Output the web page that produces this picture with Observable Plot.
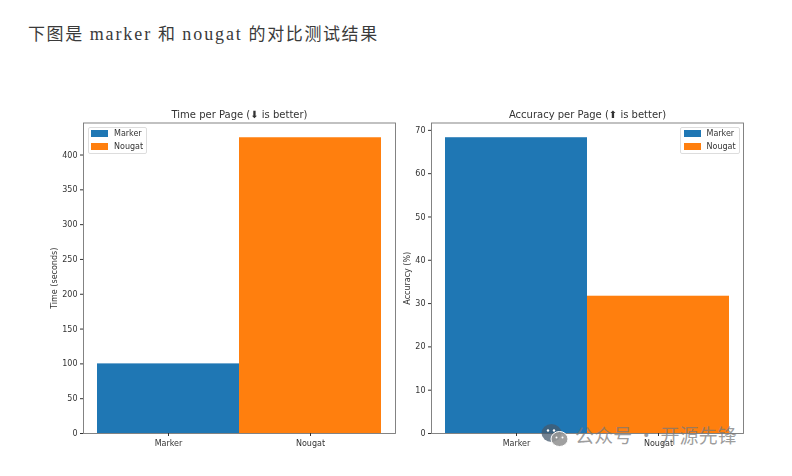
<!DOCTYPE html>
<html lang="zh-CN">
<head>
<meta charset="utf-8">
<script src="https://cdn.jsdelivr.net/npm/d3@7"></script>
<script src="https://cdn.jsdelivr.net/npm/@observablehq/plot@0.6"></script>
<style>
  html, body { margin: 0; padding: 0; background: #fff; }
  body { position: relative; width: 792px; height: 476px; overflow: hidden; font-family: "DejaVu Sans", sans-serif; }
  #heading { position: absolute; left: 28px; top: 21.5px; font: 17px/24px "Liberation Serif", "Noto Sans CJK SC", serif; letter-spacing: 1.6px; color: #3a3a3a; white-space: pre; }
  #heading b { font-weight: normal; font-size: 18px; letter-spacing: 1.9px; }
  .panel { position: absolute; top: 100px; filter: blur(0.3px); }
  .panel svg { display: block; overflow: visible; }
  #left { left: 0; } #right { left: 397px; }
  .legend { position: absolute; top: 126.5px; height: 27.5px; width: 59.5px; border: 0.7px solid #ddd; border-radius: 2px; background: rgba(255,255,255,.85); font-size: 8px; color: #333; filter: blur(0.3px); box-sizing: border-box; }
  .legend div { position: absolute; left: 2.5px; height: 12px; line-height: 12px; white-space: nowrap; }
  .legend i { display: inline-block; width: 17px; height: 6.5px; margin-right: 6px; vertical-align: -0.5px; }
  #wm { position: absolute; left: 541px; top: 421px; height: 28px; display: flex; align-items: center; gap: 6px; color: rgba(120,120,120,.72); font: 19px/28px "Noto Sans CJK SC", sans-serif; letter-spacing: 0.15px; white-space: pre; }
</style>
</head>
<body>
<div id="heading">下图是 <b>marker</b> 和 <b>nougat</b> 的对比测试结果</div>
<div class="panel" id="left"></div>
<div class="panel" id="right"></div>
<div id="wm"><svg width="28" height="24" viewBox="0 0 28 24"><ellipse cx="10.5" cy="10" rx="10" ry="9" fill="rgba(70,90,110,.75)"/><ellipse cx="18.5" cy="16" rx="8.5" ry="7.5" fill="rgba(150,150,150,.9)" stroke="#fff" stroke-width="1"/><circle cx="7" cy="7.5" r="1.2" fill="#fff"/><circle cx="13" cy="7.5" r="1.2" fill="#fff"/><circle cx="15.5" cy="14.5" r="1" fill="#fff"/><circle cx="21.5" cy="14.5" r="1" fill="#fff"/></svg><span>公众号 · 开源先锋</span></div>
<script>
const categories = ["Marker", "Nougat"];
const colors = ["#1f77b4", "#ff7f0e"];
const timeValues = [100, 424.8];
const accuracyValues = [68.3, 31.7];
const timeTicks = [0, 50, 100, 150, 200, 250, 300, 350, 400];
const accuracyTicks = [0, 10, 20, 30, 40, 50, 60, 70];

function panel({values, ticks, top, title, label, width, marginLeft, labelOffset}) {
  return Plot.plot({
    width, height: 360,
    marginTop: 22.5, marginBottom: 27, marginLeft, marginRight: 2,
    style: {fontFamily: "DejaVu Sans, sans-serif", fontSize: "8px", color: "#333", background: "transparent"},
    x: {type: "band", domain: categories, padding: 0, insetLeft: 14, insetRight: 14},
    y: {domain: [0, top]},
    color: {domain: categories, range: colors},
    marks: [
      Plot.barY(categories, {x: d => d, y: (d, i) => values[i], fill: d => d}),
      Plot.frame({stroke: "#777", strokeWidth: 0.9}),
      Plot.axisX({tickSize: 3, tickPadding: 3.5, label: null, fontSize: 8}),
      Plot.axisY({ticks, tickSize: 3, tickPadding: 3, label, labelAnchor: "center", labelArrow: "none", labelOffset, fontSize: 8}),
      Plot.text([title], {frameAnchor: "top", dy: -12, fontSize: 10, fill: "#333"})
    ]
  });
}

document.getElementById("left").append(panel({
  values: timeValues, ticks: timeTicks, top: 446,
  title: "Time per Page (⬇ is better)", label: "Time (seconds)",
  width: 397, marginLeft: 83, labelOffset: 32
}));
document.getElementById("right").append(panel({
  values: accuracyValues, ticks: accuracyTicks, top: 71.7,
  title: "Accuracy per Page (⬆ is better)", label: "Accuracy (%)",
  width: 348, marginLeft: 34, labelOffset: 27
}));

function legend(left) {
  const box = document.createElement("div");
  box.className = "legend";
  box.style.left = left + "px";
  categories.forEach((name, i) => {
    const row = document.createElement("div");
    row.style.top = (i ? 13.5 : 0.8) + "px";
    const sw = document.createElement("i");
    sw.style.background = colors[i];
    row.append(sw, name);
    box.append(row);
  });
  document.body.append(box);
}
legend(87.5);
legend(680);
</script>
</body>
</html>
